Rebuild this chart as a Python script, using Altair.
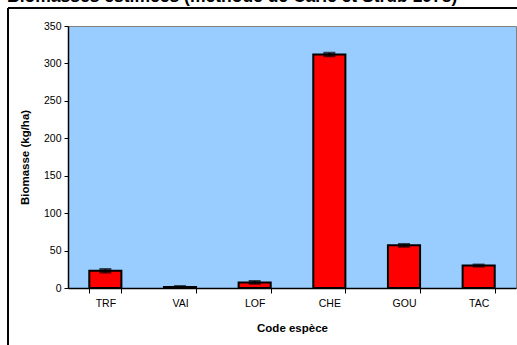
import altair as alt
import pandas as pd

species = ["TRF", "VAI", "LOF", "CHE", "GOU", "TAC"]
biomass = [23, 1.5, 7.5, 312, 57, 30]
err = [2, 0.8, 1.5, 2, 1.5, 1]
y_ticks = [0, 50, 100, 150, 200, 250, 300, 350]

df = pd.DataFrame({"sp": species, "b": biomass, "e": err})
df["lo"] = df["b"] - df["e"]
df["hi"] = df["b"] + df["e"]

W, H = 448, 262
x_axis = alt.Axis(title="Code espèce", labelAngle=0, labelFont="Arial", labelFontSize=10.5,
                  labelColor="#000", labelPadding=5, titleFont="Arial", titleFontSize=11.5,
                  titleFontWeight="bold", titlePadding=14, domainColor="#000", tickColor="#000",
                  tickBand="extent", tickSize=5, domainWidth=1.5)
y_axis = alt.Axis(title="Biomasse (kg/ha)", values=y_ticks,
                  grid=False, labelOverlap=False, labelFlush=False,
                  labelFont="Arial", labelFontSize=10.5, labelColor="#000", labelPadding=3,
                  titleFont="Arial", titleFontSize=11.5, titleFontWeight="bold",
                  titlePadding=13, domainColor="#000", tickColor="#000", tickSize=4,
                  domainWidth=1.5)
x_scale = alt.Scale(paddingInner=0.57, paddingOuter=0.285)
y_scale = alt.Scale(domain=[0, 350], nice=False)
X = alt.X("sp:N", sort=species, scale=x_scale, axis=x_axis)

bars = alt.Chart(df).mark_bar(color="#FF0000", stroke="#000", strokeWidth=2).encode(
    x=X, y=alt.Y("b:Q", scale=y_scale, axis=y_axis))
rules = alt.Chart(df).mark_rule(color="#000", strokeWidth=2).encode(
    x=X, y=alt.Y("lo:Q", scale=y_scale, axis=y_axis), y2="hi:Q")
caps_hi = alt.Chart(df).mark_tick(color="#000", thickness=2.5, size=12, orient="horizontal").encode(
    x=X, y=alt.Y("hi:Q", scale=y_scale, axis=y_axis))
caps_lo = alt.Chart(df).mark_tick(color="#000", thickness=2.5, size=12, orient="horizontal").encode(
    x=X, y=alt.Y("lo:Q", scale=y_scale, axis=y_axis))

frame_left = alt.Chart(df).mark_rule(color="#000", strokeWidth=1).encode(
    x=alt.value(-60), y=alt.value(-18), y2=alt.value(400))
frame_top = alt.Chart(df).mark_rule(color="#000", strokeWidth=1).encode(
    x=alt.value(-60), x2=alt.value(600), y=alt.value(-18))
title = alt.Chart(pd.DataFrame({"t": ["Biomasses estimées (méthode de Carle et Strub 1978)"]})).mark_text(
    font="Arial", fontSize=17.5, fontWeight="bold", align="left", baseline="alphabetic", color="#000"
).encode(x=alt.value(-61), y=alt.value(-24), text="t:N")

chart = alt.layer(bars, rules, caps_hi, caps_lo, frame_left, frame_top, title).properties(
    width=W, height=H,
    autosize=alt.AutoSizeParams(type="none"),
    padding={"left": 68, "top": 26, "right": 1, "bottom": 57},
    background="#FFFFFF",
).configure_view(fill="#99CCFF", stroke="#808080", strokeWidth=1)

chart.save("out.html", embed_options={"renderer": "svg", "actions": False})
